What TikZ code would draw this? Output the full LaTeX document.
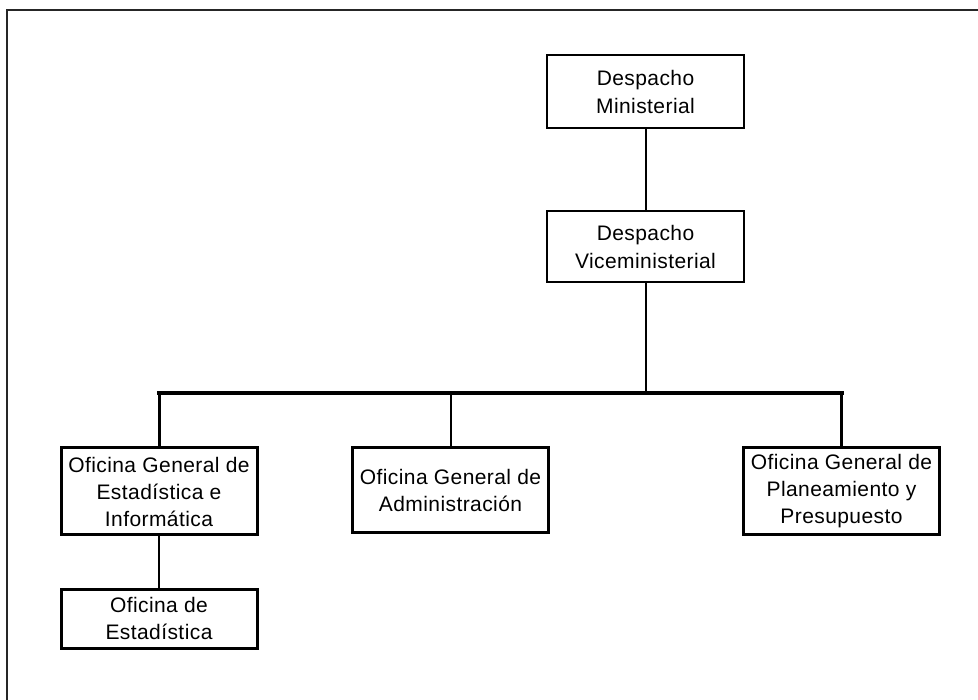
\documentclass[tikz,border=0pt]{standalone}
\usepackage{fontspec}
\setmainfont{Liberation Sans}[LetterSpace=2]
\begin{document}
\begin{tikzpicture}[x=1pt,y=-1pt,
  topbox/.style={draw,line width=2pt,rectangle,minimum width=197pt,align=center,inner sep=0pt,font=\fontsize{21}{28}\selectfont},
  lowbox/.style={draw,line width=3pt,rectangle,minimum width=196pt,align=center,inner sep=0pt,font=\fontsize{21}{27}\selectfont},
  conn/.style={line width=2pt},
  busline/.style={line width=4pt,line cap=rect}]
\useasboundingbox (0,0) rectangle (978,700);
\draw[line width=2pt,black!85] (7,700) -- (7,10) -- (978,10);
\node[topbox,minimum height=73pt] (dm) at (645.5,91.5) {Despacho\\Ministerial};
\node[topbox,minimum height=71pt] (dv) at (645.5,246.5) {Despacho\\Viceministerial};
\node[lowbox,minimum height=87pt] (ogei) at (159,491.5) {Oficina General de\\Estadística e\\Informática};
\node[lowbox,minimum height=59pt] (oe) at (159,618.5) {Oficina de\\Estadística};
\node[lowbox,minimum height=85pt] (adm) at (450.5,490.5) {Oficina General de\\Administración};
\node[lowbox,minimum height=87pt] (plan) at (841.5,491.5) {Oficina General de\\Planeamiento y\\Presupuesto};
\coordinate (bus) at (450,393);
\draw[conn] (dm.south) -- (dv.north);
\draw[conn] (dv.south) -- (dv.south |- bus);
\draw[busline] (ogei.north |- bus) -- (plan.north |- bus);
\draw[line width=3pt] (ogei.north) -- (ogei.north |- bus);
\draw[conn] (adm.north) -- (adm.north |- bus);
\draw[line width=3pt] (plan.north) -- (plan.north |- bus);
\draw[conn] (ogei.south) -- (oe.north);
\end{tikzpicture}
\end{document}
